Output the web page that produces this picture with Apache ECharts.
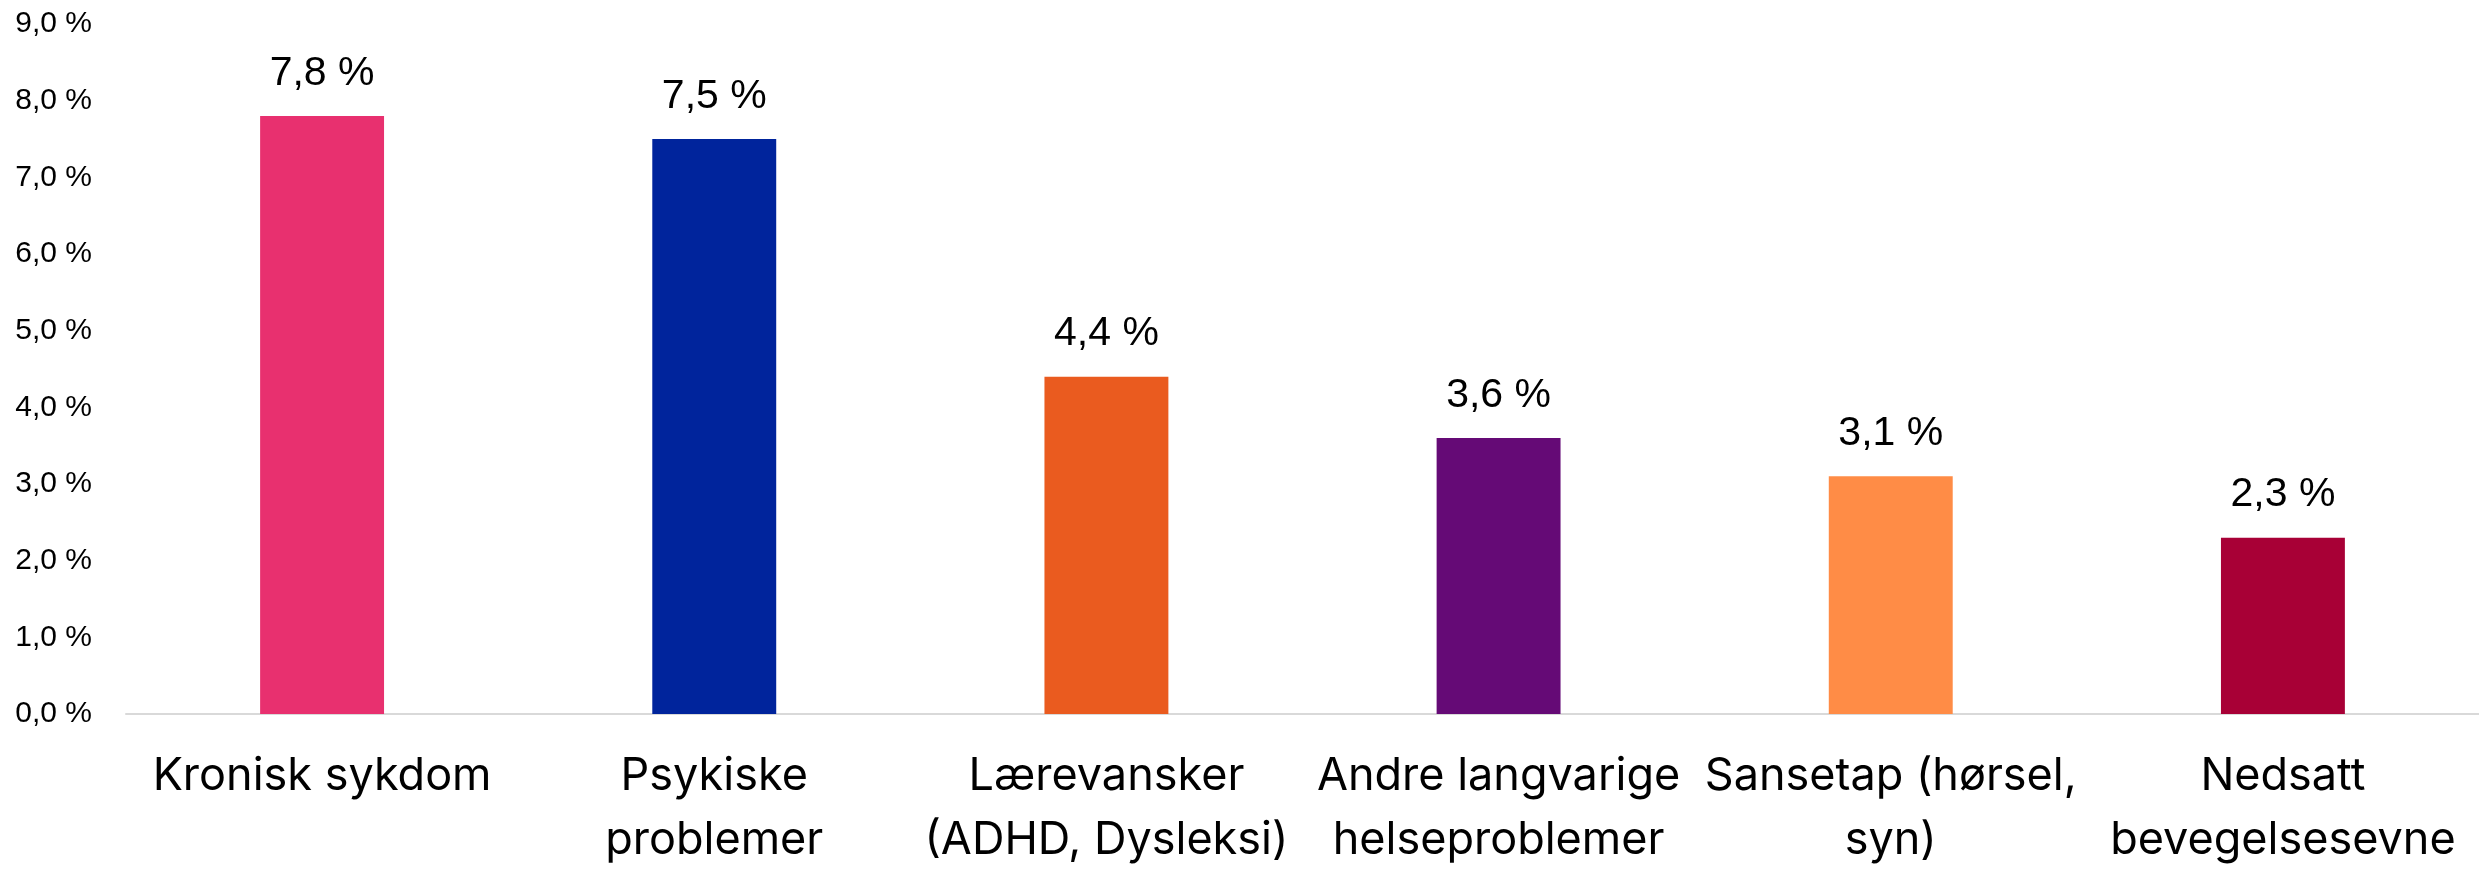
<!DOCTYPE html>
<html>
<head>
<meta charset="utf-8">
<script src="https://cdn.jsdelivr.net/npm/echarts@6/dist/echarts.min.js"></script>
<style>
  html, body { margin: 0; padding: 0; background: #fff; overflow: hidden; }
  #chart { width: 2479px; height: 872px; }
</style>
</head>
<body>
<div id="chart"></div>
<script>
// kategorier og verdier (prosent)
var categories = [
  "Kronisk sykdom",
  "Psykiske\nproblemer",
  "Lærevansker\n(ADHD, Dysleksi)",
  "Andre langvarige\nhelseproblemer",
  "Sansetap (hørsel,\nsyn)",
  "Nedsatt\nbevegelsesevne"
];
var values = [7.8, 7.5, 4.4, 3.6, 3.1, 2.3];
var yTicks = [0, 1, 2, 3, 4, 5, 6, 7, 8, 9];

var barColors = ["#E8306F", "#00249C", "#EA5B1F", "#650A76", "#FF8C46", "#A80036"];

function pct(v) {
  return v.toFixed(1).replace(".", ",") + " %";
}

var myChart = echarts.init(document.getElementById("chart"));
var option;

var barData = [];
for (var i = 0; i < values.length; i++) {
  barData.push({
    value: values[i],
    itemStyle: { color: barColors[i] }
  });
}

option = {
  backgroundColor: "#ffffff",
  animation: false,
  grid: {
    left: 126,
    right: 0,
    top: 24,
    bottom: 151,
    containLabel: false
  },
  xAxis: {
    type: "category",
    data: categories,
    axisLine: { show: true, lineStyle: { color: "#D9D9D9", width: 2 } },
    axisTick: { show: false },
    axisLabel: {
      interval: 0,
      margin: 30,
      color: "#000000",
      fontFamily: "Inter",
      fontSize: 45,
      lineHeight: 64
    }
  },
  yAxis: {
    type: "value",
    min: yTicks[0],
    max: yTicks[yTicks.length - 1],
    interval: 1,
    splitLine: { show: false },
    axisLine: { show: false },
    axisTick: { show: false },
    axisLabel: {
      margin: 34,
      color: "#000000",
      fontFamily: "Liberation Sans",
      fontSize: 30,
      formatter: function (v) { return pct(v); }
    }
  },
  series: [
    {
      type: "bar",
      data: barData,
      barWidth: "31.6%",
      label: {
        show: true,
        position: "top",
        distance: 22,
        color: "#000000",
        fontFamily: "Liberation Sans",
        fontSize: 41,
        lineHeight: 41,
        formatter: function (p) { return pct(p.value); }
      }
    }
  ]
};

option && myChart.setOption(option);
</script>
</body>
</html>
